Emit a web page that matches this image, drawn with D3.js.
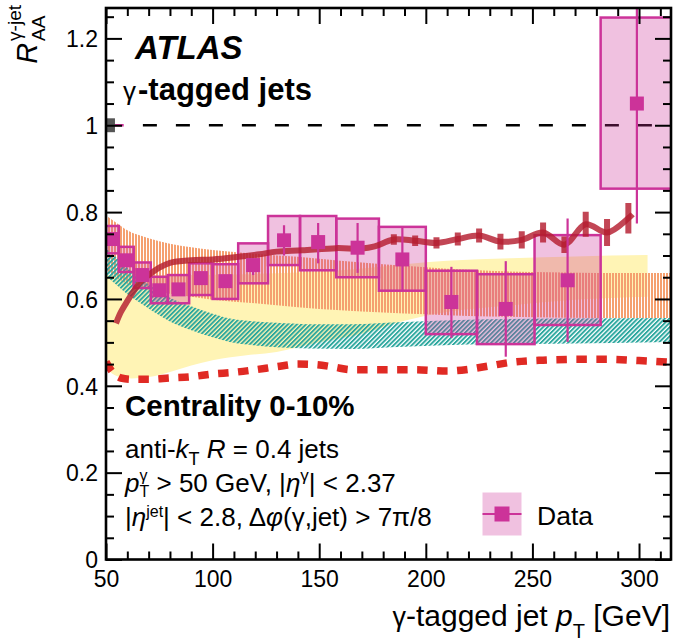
<!DOCTYPE html>
<html>
<head>
<meta charset="utf-8">
<script src="https://cdn.jsdelivr.net/npm/d3@7"></script>
<style>
  body { margin: 0; background: #fff; }
  svg { display: block; font-family: "Liberation Sans", Arial, Helvetica, sans-serif; }
  text.rt { white-space: pre; }
</style>
</head>
<body>
<svg id="chart" width="677" height="644"></svg>
<script>
// ---- measurement: photon-tagged jet R_AA, 0-10% centrality ----
const binEdges = [50, 56, 63, 71, 79, 89, 100, 112, 126, 141, 158, 178, 200, 224, 251, 282, 316];
const raa    = [0.738, 0.689, 0.655, 0.620, 0.622, 0.648, 0.641, 0.678, 0.735, 0.731, 0.718, 0.691, 0.593, 0.577, 0.643, 1.050];
const statLo = [0.728, 0.680, 0.645, 0.610, 0.612, 0.637, 0.628, 0.655, 0.700, 0.682, 0.660, 0.620, 0.510, 0.467, 0.501, 0.774];
const statHi = [0.748, 0.700, 0.665, 0.630, 0.632, 0.659, 0.654, 0.690, 0.770, 0.775, 0.775, 0.766, 0.674, 0.687, 0.785, 1.400];
const sysLo  = [0.705, 0.662, 0.625, 0.590, 0.590, 0.609, 0.600, 0.636, 0.678, 0.666, 0.650, 0.619, 0.519, 0.496, 0.540, 0.854];
const sysHi  = [0.768, 0.720, 0.684, 0.651, 0.655, 0.682, 0.680, 0.728, 0.791, 0.791, 0.785, 0.766, 0.665, 0.657, 0.747, 1.248];
const normUnc = 0.016;

// ---- model curves ----
const theoryPt  = [54.7, 57, 60, 63, 66, 70, 75, 80, 90, 100, 112, 122, 130, 142, 158, 170, 176, 185, 195, 205, 215, 225, 235, 245, 255, 265, 275, 285, 295, 297];
const theoryVal = [0.544, 0.570, 0.595, 0.618, 0.638, 0.655, 0.672, 0.683, 0.689, 0.691, 0.697, 0.703, 0.709, 0.712, 0.717, 0.716, 0.721, 0.737, 0.734, 0.729, 0.738, 0.746, 0.732, 0.736, 0.753, 0.725, 0.772, 0.753, 0.786, 0.795];
const theoryErr = [0, 0, 0, 0, 0, 0, 0, 0, 0, 0, 0, 0, 0, 0, 0, 0, 0, 0.012, 0.012, 0.013, 0.015, 0.016, 0.018, 0.020, 0.023, 0.019, 0.029, 0.031, 0.035, 0];

const dashedPt  = [50, 53, 57, 62, 70, 80, 90, 100, 110, 120, 130, 140, 148, 157, 165, 180, 195, 210, 220, 230, 240, 255, 270, 285, 300, 315];
const dashedVal = [0.455, 0.432, 0.418, 0.415, 0.415, 0.418, 0.421, 0.427, 0.431, 0.437, 0.444, 0.450, 0.449, 0.443, 0.437, 0.437, 0.437, 0.434, 0.438, 0.446, 0.454, 0.459, 0.461, 0.461, 0.458, 0.454];

const orangePt = [50, 55, 60, 70, 80, 90, 100, 120, 140, 160, 180, 200, 220, 250, 280, 315];
const orangeHi = [0.792, 0.775, 0.758, 0.740, 0.727, 0.719, 0.713, 0.704, 0.697, 0.688, 0.680, 0.673, 0.667, 0.662, 0.660, 0.660];
const orangeLo = [0.665, 0.648, 0.635, 0.622, 0.612, 0.605, 0.598, 0.590, 0.581, 0.574, 0.569, 0.565, 0.561, 0.558, 0.556, 0.556];

const yellowPt = [50, 53, 57, 62, 70, 80, 90, 100, 115, 130, 150, 170, 190, 210, 240, 270, 304];
const yellowHi = [0.655, 0.655, 0.655, 0.655, 0.655, 0.655, 0.655, 0.656, 0.657, 0.659, 0.663, 0.670, 0.680, 0.688, 0.694, 0.698, 0.701];
const yellowLo = [0.440, 0.428, 0.420, 0.417, 0.420, 0.432, 0.447, 0.459, 0.470, 0.478, 0.500, 0.520, 0.550, 0.570, 0.585, 0.598, 0.605];

const tealPt = [50, 55, 60, 65, 70, 80, 90, 100, 110, 120, 130, 145, 165, 190, 220, 260, 315];
const tealHi = [0.716, 0.695, 0.672, 0.652, 0.633, 0.603, 0.583, 0.566, 0.553, 0.548, 0.545, 0.542, 0.542, 0.547, 0.552, 0.555, 0.556];
const tealLo = [0.652, 0.632, 0.611, 0.594, 0.578, 0.548, 0.528, 0.512, 0.499, 0.493, 0.489, 0.486, 0.485, 0.490, 0.495, 0.497, 0.501];

// ---- axes ----
const xDomain = [50, 315];
const yDomain = [0, 1.27];
const xMajor = [50, 100, 150, 200, 250, 300];
const xMinor = d3.range(60, 315, 10).filter(v => v % 50 !== 0);
const yMajor = [0, 0.2, 0.4, 0.6, 0.8, 1.0, 1.2];
const yTickLabels = ["0", "0.2", "0.4", "0.6", "0.8", "1", "1.2"];
const yMinor = d3.range(0.05, 1.27, 0.05).filter(v => Math.abs(v * 5 - Math.round(v * 5)) > 1e-6);

const C = {
  magenta: "#cc3399",
  boxFill: "rgba(204,51,153,0.30)",
  theory: "#b51d30",
  dashed: "#e02a24",
  orange: "#f5a070",
  yellow: "#fff4b5",
  teal: "#2ca79e"
};

const svg = d3.select("#chart");
const m = { left: 106, right: 671, top: 8, bottom: 559.5 };

const x = d3.scaleLinear().domain(xDomain).range([m.left, m.right]);
const y = d3.scaleLinear().domain(yDomain).range([m.bottom, m.top]);

const defs = svg.append("defs");
defs.append("clipPath").attr("id", "plotClip")
  .append("rect").attr("x", m.left).attr("y", m.top)
  .attr("width", m.right - m.left).attr("height", m.bottom - m.top);

const pOrange = defs.append("pattern").attr("id", "vstripes")
  .attr("patternUnits", "userSpaceOnUse").attr("width", 3).attr("height", 10);
pOrange.append("rect").attr("x", 0).attr("y", 0).attr("width", 2).attr("height", 10).attr("fill", C.orange);

const pTeal = defs.append("pattern").attr("id", "hatch")
  .attr("patternUnits", "userSpaceOnUse").attr("width", 3.2).attr("height", 10)
  .attr("patternTransform", "rotate(45)");
pTeal.append("rect").attr("x", 0).attr("y", 0).attr("width", 1.9).attr("height", 10).attr("fill", C.teal);

const plot = svg.append("g").attr("clip-path", "url(#plotClip)");

const band = (pts, lo, hi) => d3.area()
  .x((d, i) => x(pts[i])).y0((d, i) => y(lo[i])).y1((d, i) => y(hi[i]))
  .curve(d3.curveMonotoneX)(pts);

plot.append("path").attr("d", band(yellowPt, yellowLo, yellowHi)).attr("fill", C.yellow);
plot.append("path").attr("d", band(orangePt, orangeLo, orangeHi)).attr("fill", "url(#vstripes)");
plot.append("path").attr("d", band(tealPt, tealLo, tealHi)).attr("fill", "url(#hatch)");

// thick dashed model
plot.append("path")
  .attr("d", d3.line().x((d, i) => x(dashedPt[i])).y((d, i) => y(dashedVal[i])).curve(d3.curveMonotoneX)(dashedPt))
  .attr("fill", "none").attr("stroke", C.dashed).attr("stroke-width", 7.5)
  .attr("stroke-dasharray", "10.5,9.5");

// unity reference
plot.append("line")
  .attr("x1", x(67.3)).attr("x2", m.right).attr("y1", y(1)).attr("y2", y(1))
  .attr("stroke", "#000").attr("stroke-width", 2.5).attr("stroke-dasharray", "14,19");
plot.append("rect")
  .attr("x", x(50)).attr("width", x(54.2) - x(50))
  .attr("y", y(1 + normUnc)).attr("height", y(1 - normUnc) - y(1 + normUnc))
  .attr("fill", "#555");
plot.append("line")
  .attr("x1", x(54.2)).attr("x2", x(58.3)).attr("y1", y(1)).attr("y2", y(1))
  .attr("stroke", C.magenta).attr("stroke-width", 2.5);

// systematic boxes
const bins = raa.map((v, i) => ({
  lo: binEdges[i], hi: binEdges[i + 1], c: (binEdges[i] + binEdges[i + 1]) / 2,
  v, sLo: statLo[i], sHi: statHi[i], yLo: sysLo[i], yHi: sysHi[i]
}));

plot.selectAll("rect.sys").data(bins).join("rect").attr("class", "sys")
  .attr("x", d => x(d.lo)).attr("width", d => x(d.hi) - x(d.lo))
  .attr("y", d => y(d.yHi)).attr("height", d => y(d.yLo) - y(d.yHi))
  .attr("fill", C.boxFill).attr("stroke", C.magenta).attr("stroke-width", 2.5);

// model line with its uncertainty ticks
plot.append("path")
  .attr("d", d3.line().x((d, i) => x(theoryPt[i])).y((d, i) => y(theoryVal[i])).curve(d3.curveCatmullRom.alpha(0.5))(theoryPt))
  .attr("fill", "none").attr("stroke", C.theory).attr("stroke-width", 6)
  .attr("stroke-opacity", 0.82).attr("stroke-linecap", "butt");
const tErr = theoryPt.map((p, i) => ({ p, v: theoryVal[i], e: theoryErr[i] })).filter(d => d.e > 0);
plot.selectAll("line.terr").data(tErr).join("line").attr("class", "terr")
  .attr("x1", d => x(d.p)).attr("x2", d => x(d.p))
  .attr("y1", d => y(d.v + d.e)).attr("y2", d => y(d.v - d.e))
  .attr("stroke", C.theory).attr("stroke-width", 6).attr("stroke-opacity", 0.82);

// statistical bars and markers
plot.selectAll("line.stat").data(bins).join("line").attr("class", "stat")
  .attr("x1", d => x(d.c)).attr("x2", d => x(d.c))
  .attr("y1", d => y(d.sHi)).attr("y2", d => y(d.sLo))
  .attr("stroke", C.magenta).attr("stroke-width", 2.2);
const ms = 14;
plot.selectAll("rect.mk").data(bins).join("rect").attr("class", "mk")
  .attr("x", d => x(d.c) - ms / 2).attr("y", d => y(d.v) - ms / 2)
  .attr("width", ms).attr("height", ms).attr("fill", C.magenta);

// ---- axes ----
const axG = svg.append("g").attr("class", "axes");
function styleAxis(g) {
  g.select(".domain").remove();
  g.selectAll(".tick line").attr("stroke", "#000").attr("stroke-width", 2);
  g.selectAll(".tick text").attr("fill", "#000").style("font-size", "23px");
}
axG.append("g").attr("transform", `translate(${m.left},0)`)
  .call(d3.axisLeft(y).tickValues(yMajor).tickSize(-16).tickPadding(8)
    .tickFormat((d, i) => yTickLabels[i]))
  .call(styleAxis)
  .call(g => g.selectAll(".tick text").attr("dy", "0.36em"));
axG.append("g").attr("transform", `translate(${m.left},0)`)
  .call(d3.axisLeft(y).tickValues(yMinor).tickSize(-8).tickFormat(""))
  .call(styleAxis);
axG.append("g").attr("transform", `translate(${m.right},0)`)
  .call(d3.axisRight(y).tickValues(yMajor).tickSize(-16).tickFormat(""))
  .call(styleAxis);
axG.append("g").attr("transform", `translate(${m.right},0)`)
  .call(d3.axisRight(y).tickValues(yMinor).tickSize(-8).tickFormat(""))
  .call(styleAxis);
axG.append("g").attr("transform", `translate(0,${m.bottom})`)
  .call(d3.axisBottom(x).tickValues(xMajor).tickSize(-16).tickFormat(d3.format("d")))
  .call(styleAxis)
  .call(g => g.selectAll(".tick text").attr("y", 27.5).attr("dy", 0));
axG.append("g").attr("transform", `translate(0,${m.bottom})`)
  .call(d3.axisBottom(x).tickValues(xMinor).tickSize(-8).tickFormat(""))
  .call(styleAxis);
axG.append("g").attr("transform", `translate(0,${m.top})`)
  .call(d3.axisTop(x).tickValues(xMajor).tickSize(-16).tickFormat(""))
  .call(styleAxis);
axG.append("g").attr("transform", `translate(0,${m.top})`)
  .call(d3.axisTop(x).tickValues(xMinor).tickSize(-8).tickFormat(""))
  .call(styleAxis);

svg.append("rect").attr("x", m.left).attr("y", m.top)
  .attr("width", m.right - m.left).attr("height", m.bottom - m.top)
  .attr("fill", "none").attr("stroke", "#000").attr("stroke-width", 2.6);

// ---- rich text helper: runs of text with sub/superscripts ----
function rich(parent, x0, y0, parts, anchor) {
  const g = parent.append("g");
  let cx = 0, prevStart = 0, prevW = 0;
  parts.forEach(p => {
    const t = g.append("text")
      .attr("class", "rt")
      .attr("xml:space", "preserve")
      .attr("y", p.dy || 0)
      .attr("fill", "#000")
      .style("font-size", (p.size || 26) + "px")
      .style("font-weight", p.bold ? "bold" : "normal")
      .style("font-style", p.italic ? "italic" : "normal")
      .text(p.t);
    const w = t.node().getComputedTextLength();
    if (p.stack) {
      t.attr("x", prevStart);
      const adv = Math.max(prevW, w);
      cx = prevStart + adv;
      prevW = adv;
    } else {
      const sx = cx + (p.dx || 0);
      t.attr("x", sx);
      prevStart = sx; prevW = w; cx = sx + w;
    }
  });
  const tx = anchor === "end" ? x0 - cx : x0;
  g.attr("transform", `translate(${tx},${y0})`);
  return g;
}

// labels inside the frame
rich(svg, 135, 59, [{ t: "ATLAS", size: 33, bold: true, italic: true }]);
rich(svg, 123, 100, [
  { t: "γ", size: 26 },
  { t: "-tagged jets", size: 31, bold: true, dx: 2 }
]);
rich(svg, 125, 416, [{ t: "Centrality 0-10%", size: 29.5, bold: true }]);
rich(svg, 125, 458, [
  { t: "anti-", size: 26 }, { t: "k", size: 26, italic: true },
  { t: "T", size: 18, dy: 7 }, { t: " ", size: 26 },
  { t: "R", size: 26, italic: true }, { t: " = 0.4 jets", size: 26 }
]);
rich(svg, 125, 492, [
  { t: "p", size: 26, italic: true },
  { t: "T", size: 16, dy: 5 }, { t: "γ", size: 16, dy: -11, stack: true },
  { t: " > 50 GeV, |", size: 26 },
  { t: "η", size: 26, italic: true }, { t: "γ", size: 17, dy: -11 },
  { t: "| < 2.37", size: 26 }
]);
rich(svg, 125, 526, [
  { t: "|", size: 26 },
  { t: "η", size: 26, italic: true }, { t: "jet", size: 16, dy: -9 },
  { t: "| < 2.8, Δ", size: 26 },
  { t: "φ", size: 26, italic: true },
  { t: "(γ,jet) > 7π/8", size: 26 }
]);

// legend
const lg = svg.append("g");
const lgx = 502, lgy = 514;
lg.append("rect").attr("x", lgx - 19.5).attr("y", lgy - 21.5).attr("width", 39).attr("height", 43)
  .attr("fill", C.boxFill);
lg.append("line").attr("x1", lgx - 19.5).attr("x2", lgx + 19.5).attr("y1", lgy).attr("y2", lgy)
  .attr("stroke", C.magenta).attr("stroke-width", 2.2);
lg.append("rect").attr("x", lgx - 7.5).attr("y", lgy - 7.5).attr("width", 15).attr("height", 15)
  .attr("fill", C.magenta);
rich(svg, 537, 525, [{ t: "Data", size: 26.5 }]);

// axis titles
rich(svg, 670, 626, [
  { t: "γ", size: 27 },
  { t: "-tagged jet ", size: 30 },
  { t: "p", size: 30, italic: true },
  { t: "T", size: 20, dy: 12 },
  { t: " [GeV]", size: 30 }
], "end");

const yt = svg.append("g").attr("transform", "translate(37,5) rotate(-90)");
rich(yt, 0, 0, [
  { t: "R", size: 29, italic: true },
  { t: "AA", size: 19, dy: 8, dx: 2 },
  { t: "γ-jet", size: 19, dy: -16, stack: true }
], "end");
</script>
</body>
</html>
